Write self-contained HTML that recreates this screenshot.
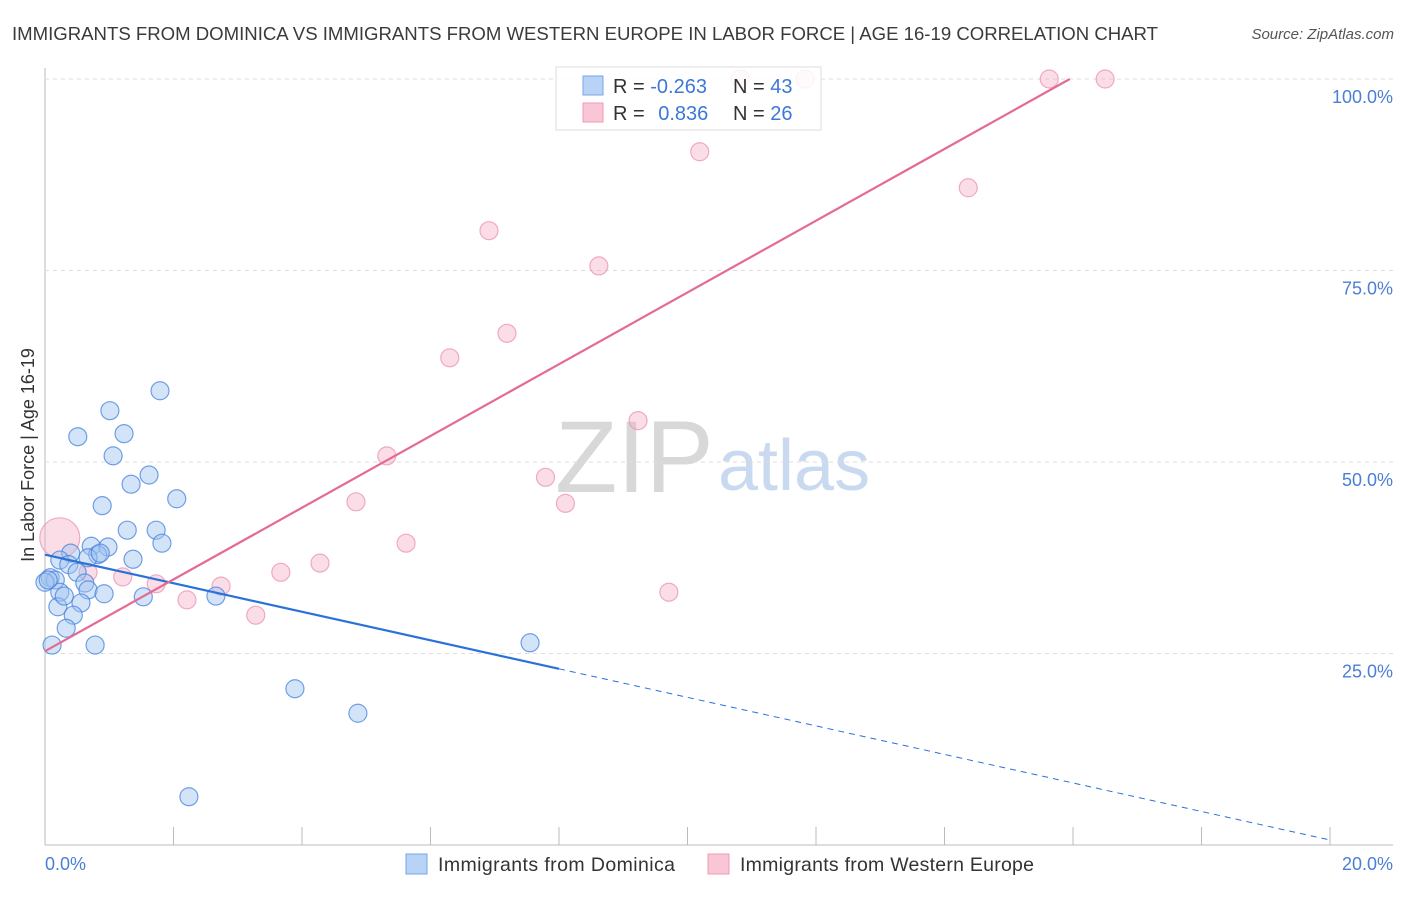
<!DOCTYPE html>
<html><head><meta charset="utf-8"><style>
body{margin:0;background:#fff;font-family:"Liberation Sans",sans-serif;}
svg text{font-family:"Liberation Sans",sans-serif;}
</style></head><body>
<svg id="c" width="1406" height="892" xmlns="http://www.w3.org/2000/svg">
<text x="12" y="40" font-size="18.6" fill="#3a3a3a" textLength="1146">IMMIGRANTS FROM DOMINICA VS IMMIGRANTS FROM WESTERN EUROPE IN LABOR FORCE | AGE 16-19 CORRELATION CHART</text>
<text x="1394" y="39" font-size="15" fill="#555" font-style="italic" text-anchor="end">Source: ZipAtlas.com</text>
<text transform="translate(34,455) rotate(-90)" font-size="18" fill="#333" text-anchor="middle">In Labor Force | Age 16-19</text>
<text x="555" y="492" font-size="102" fill="#d8d8d8" font-family="Liberation Serif">ZIP</text>
<text x="718" y="490" font-size="72" fill="#c9daf0">atlas</text>
<g id="grid"></g><g id="marks"></g>
<g>
<rect x="556" y="67" width="265" height="63" fill="rgba(255,255,255,0.85)" stroke="#ddd"/>
<rect x="583" y="76" width="20" height="19" fill="#b8d3f5" stroke="#7aa6e6"/>
<rect x="583" y="103" width="20" height="19" fill="#f9c6d5" stroke="#ee9ab3"/>
<text x="613" y="93" font-size="20" fill="#333">R = <tspan fill="#3b78d8">-0.263</tspan></text>
<text x="733" y="93" font-size="20" fill="#333">N = <tspan fill="#3b78d8">43</tspan></text>
<text x="613" y="120" font-size="20" fill="#333">R = <tspan fill="#3b78d8" dx="8">0.836</tspan></text>
<text x="733" y="120" font-size="20" fill="#333">N = <tspan fill="#3b78d8">26</tspan></text>
</g>
<g>
<rect x="406" y="854" width="21" height="20" fill="#b8d3f5" stroke="#7aa6e6"/>
<text x="438" y="871" font-size="19.5" fill="#333" textLength="237">Immigrants from Dominica</text>
<rect x="708" y="854" width="21" height="20" fill="#f9c6d5" stroke="#ee9ab3"/>
<text x="740" y="871" font-size="19.5" fill="#333" textLength="294">Immigrants from Western Europe</text>
</g>
</svg>
<script>
const blueX=[0.51,1.01,1.79,1.23,1.06,1.34,1.62,2.05,0.89,1.28,1.73,1.82,0.72,0.98,0.40,0.82,0.67,0.23,1.37,0.37,0.50,0.08,0.16,0.62,0.67,0.23,0.92,1.53,2.66,0.56,0.20,0.44,0.33,0.11,0.78,7.55,3.89,4.87,2.24,0.0,0.86,0.30,0.05];
const blueY=[53.3,56.7,59.3,53.7,50.8,47.1,48.3,45.2,44.3,41.1,41.1,39.4,39.0,38.9,38.1,37.9,37.5,37.2,37.3,36.6,35.6,34.9,34.6,34.2,33.3,33.0,32.8,32.4,32.5,31.6,31.1,30.0,28.3,26.1,26.1,26.4,20.4,17.2,6.3,34.3,38.1,32.5,34.6];
const pinkX=[0.23,0.67,1.21,1.73,2.21,2.74,3.28,3.67,4.28,4.84,5.32,5.62,6.30,6.91,7.19,7.79,8.10,8.62,9.23,9.71,10.19,10.82,11.83,14.37,15.63,16.50];
const pinkY=[40.1,35.6,35.0,34.1,32.0,33.8,30.0,35.6,36.8,44.8,50.8,39.4,63.6,80.2,66.8,48.0,44.6,75.6,55.4,33.0,90.5,100,100,85.8,100,100];
const pinkR=[20,9,9,9,9,9,9,9,9,9,9,9,9,9,9,9,9,9,9,9,9,9,9,9,9,9];
const yTicks=[25,50,75,100];
const yTickLabels=["25.0%","50.0%","75.0%","100.0%"];
const xTicks=[0,2,4,6,8,10,12,14,16,18,20];
const blueTrend=[37.9,0.65];
const pinkTrend=[25.3,100,15.95];
const NS="http://www.w3.org/2000/svg";
const xs=v=>45+v/20*1285;
const ys=v=>845-v/100*766;
function mk(t,a,p){const e=document.createElementNS(NS,t);for(const k in a)e.setAttribute(k,a[k]);p.appendChild(e);return e;}
const g=document.getElementById('grid'),m=document.getElementById('marks');
let ax=mk('line',{x1:45,y1:68,x2:45,y2:845,stroke:'#bbb'},g);


let bx=mk('line',{x1:45,y1:845,x2:1393,y2:845,stroke:'#bbb'},g);


yTicks.forEach((t,i)=>{
 let l=mk('line',{x1:45,x2:1393,y1:ys(t),y2:ys(t),stroke:'#ddd','stroke-dasharray':'4,4'},g);
 
 
 let tx=mk('text',{x:1393,y:ys(t)+24,'font-size':18,fill:'#4a7fd4','text-anchor':'end'},g);
 tx.textContent=yTickLabels[i];
 
 
});
xTicks.forEach(t=>{
 let l=mk('line',{x1:xs(t),x2:xs(t),y1:827,y2:845,stroke:'#bbb'},g);
 
 
});
let x0=mk('text',{x:45,y:870,'font-size':18,fill:'#4a7fd4'},g);x0.textContent='0.0%';


let x1=mk('text',{x:1393,y:870,'font-size':18,fill:'#4a7fd4','text-anchor':'end'},g);x1.textContent='20.0%';


pinkX.forEach((v,i)=>{
 let c=mk('circle',{cx:xs(v),cy:ys(pinkY[i]),r:pinkR[i],fill:'rgba(246,170,195,0.4)',stroke:'rgba(235,140,170,0.7)','stroke-width':1.2},m);
 
 
});
blueX.forEach((v,i)=>{
 let c=mk('circle',{cx:xs(v),cy:ys(blueY[i]),r:9,fill:'rgba(160,195,240,0.45)',stroke:'rgba(70,130,220,0.75)','stroke-width':1.2},m);
 
 
});
const bAt=x=>blueTrend[0]+(blueTrend[1]-blueTrend[0])*x/20;
let bl=mk('line',{x1:xs(0),y1:ys(bAt(0)),x2:xs(8),y2:ys(bAt(8)),stroke:'#2a72d8','stroke-width':2.2},m);


let bd=mk('line',{x1:xs(8),y1:ys(bAt(8)),x2:xs(20),y2:ys(bAt(20)),stroke:'#2a72d8','stroke-width':1,'stroke-dasharray':'6,5'},m);


let pl=mk('line',{x1:xs(0),y1:ys(pinkTrend[0]),x2:xs(pinkTrend[2]),y2:ys(pinkTrend[1]),stroke:'#e56a93','stroke-width':2.2},m);


</script>
</body></html>
